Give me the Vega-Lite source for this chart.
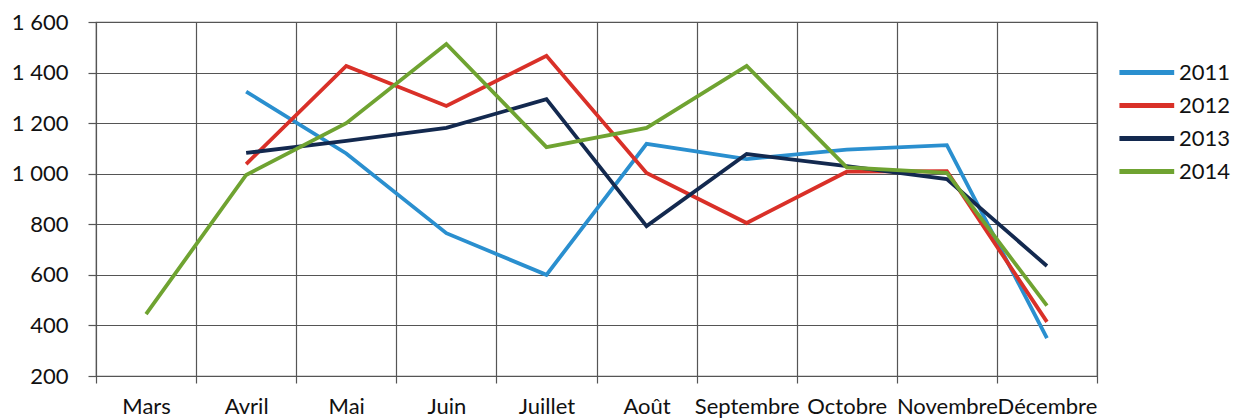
{
  "$schema": "https://vega.github.io/schema/vega-lite/v6.json",
  "width": 1001,
  "height": 354,
  "autosize": "none",
  "padding": {"left": 96, "top": 22, "right": 136, "bottom": 42},
  "background": "white",
  "config": {
    "font": "Lato",
    "view": {"stroke": "#555555", "strokeWidth": 1.2},
    "axis": {"gridColor": "#555555", "gridOpacity": 1, "gridWidth": 1.2, "tickColor": "#555555", "tickWidth": 1.2, "domain": false, "labelColor": "#111111", "labelFont": "Lato", "title": null}
  },
  "data": {
    "values": [
      {"mois": "Avril", "annee": "2011", "valeur": 1325},
      {"mois": "Mai", "annee": "2011", "valeur": 1080},
      {"mois": "Juin", "annee": "2011", "valeur": 765},
      {"mois": "Juillet", "annee": "2011", "valeur": 600},
      {"mois": "Août", "annee": "2011", "valeur": 1118},
      {"mois": "Septembre", "annee": "2011", "valeur": 1058},
      {"mois": "Octobre", "annee": "2011", "valeur": 1095},
      {"mois": "Novembre", "annee": "2011", "valeur": 1113},
      {"mois": "Décembre", "annee": "2011", "valeur": 350},
      {"mois": "Avril", "annee": "2012", "valeur": 1038},
      {"mois": "Mai", "annee": "2012", "valeur": 1426},
      {"mois": "Juin", "annee": "2012", "valeur": 1268},
      {"mois": "Juillet", "annee": "2012", "valeur": 1466},
      {"mois": "Août", "annee": "2012", "valeur": 1003},
      {"mois": "Septembre", "annee": "2012", "valeur": 805},
      {"mois": "Octobre", "annee": "2012", "valeur": 1008},
      {"mois": "Novembre", "annee": "2012", "valeur": 1010},
      {"mois": "Décembre", "annee": "2012", "valeur": 414},
      {"mois": "Avril", "annee": "2013", "valeur": 1082},
      {"mois": "Mai", "annee": "2013", "valeur": 1130},
      {"mois": "Juin", "annee": "2013", "valeur": 1181},
      {"mois": "Juillet", "annee": "2013", "valeur": 1295},
      {"mois": "Août", "annee": "2013", "valeur": 793},
      {"mois": "Septembre", "annee": "2013", "valeur": 1078},
      {"mois": "Octobre", "annee": "2013", "valeur": 1030},
      {"mois": "Novembre", "annee": "2013", "valeur": 979},
      {"mois": "Décembre", "annee": "2013", "valeur": 635},
      {"mois": "Mars", "annee": "2014", "valeur": 445},
      {"mois": "Avril", "annee": "2014", "valeur": 995},
      {"mois": "Mai", "annee": "2014", "valeur": 1200},
      {"mois": "Juin", "annee": "2014", "valeur": 1513},
      {"mois": "Juillet", "annee": "2014", "valeur": 1105},
      {"mois": "Août", "annee": "2014", "valeur": 1181},
      {"mois": "Septembre", "annee": "2014", "valeur": 1426},
      {"mois": "Octobre", "annee": "2014", "valeur": 1025},
      {"mois": "Novembre", "annee": "2014", "valeur": 1003},
      {"mois": "Décembre", "annee": "2014", "valeur": 478}
    ]
  },
  "mark": {"type": "line", "strokeWidth": 3.8, "strokeJoin": "miter"},
  "encoding": {
    "x": {
      "field": "mois",
      "type": "nominal",
      "bandPosition": 0.5,
      "sort": ["Mars", "Avril", "Mai", "Juin", "Juillet", "Août", "Septembre", "Octobre", "Novembre", "Décembre"],
      "scale": {"type": "band", "paddingInner": 0, "paddingOuter": 0, "domain": ["Mars", "Avril", "Mai", "Juin", "Juillet", "Août", "Septembre", "Octobre", "Novembre", "Décembre"]},
      "axis": {"tickBand": "extent", "grid": true, "tickSize": 7, "labelAngle": 0, "labelFontSize": 22, "labelPadding": 13, "labelBaseline": "top", "labelOverlap": false}
    },
    "y": {
      "field": "valeur",
      "type": "quantitative",
      "scale": {"domain": [200, 1600], "nice": false, "zero": false},
      "axis": {"values": [200, 400, 600, 800, 1000, 1200, 1400, 1600], "grid": true, "tickSize": 8, "labelFontSize": 22, "labelPadding": 20, "labelExpr": "replace(format(datum.value, ','), ',', ' ')"}
    },
    "color": {
      "field": "annee",
      "type": "nominal",
      "scale": {"domain": ["2011", "2012", "2013", "2014"], "range": ["#2a8fcf", "#d93028", "#13294f", "#6fa331"]},
      "legend": {"title": null, "orient": "none", "legendX": 1048, "legendY": 34, "symbolType": "M-3,0L1,0", "symbolSize": 750, "symbolStrokeWidth": 5, "symbolStrokeCap": "round", "labelFontSize": 22, "labelColor": "#111111", "labelOffset": 2, "rowPadding": 5}
    }
  }
}
